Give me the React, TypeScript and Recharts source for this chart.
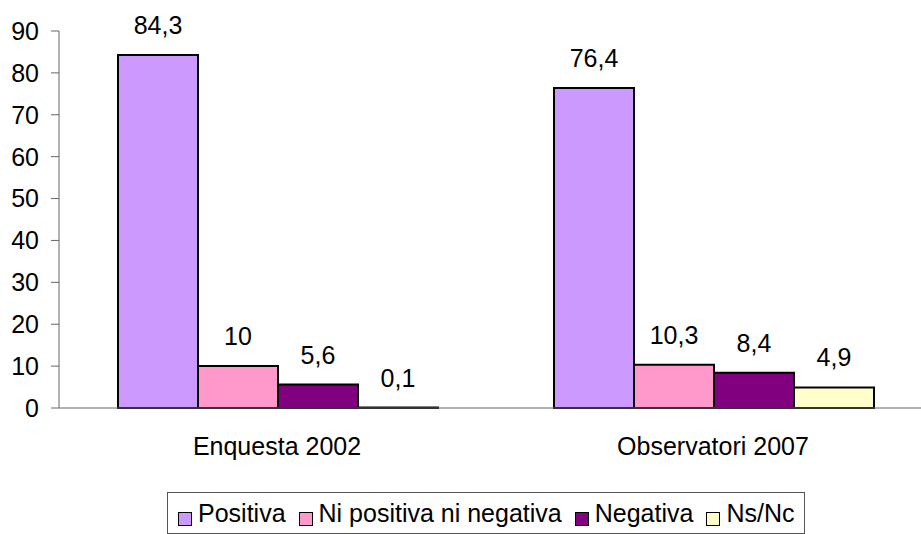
import { BarChart, Bar, XAxis, YAxis, Legend, LabelList } from 'recharts';

const CATEGORIES = ['Enquesta 2002', 'Observatori 2007'];
const SERIES = ['Positiva', 'Ni positiva ni negativa', 'Negativa', 'Ns/Nc'];
const POSITIVA = [84.3, 76.4];
const NI_POS_NI_NEG = [10, 10.3];
const NEGATIVA = [5.6, 8.4];
const NS_NC = [0.1, 4.9];
const Y_TICKS = [0, 10, 20, 30, 40, 50, 60, 70, 80, 90];
const BOUNDARY_TICKS = [0, 1, 2];

const COLORS = ['#cc99ff', '#ff99cc', '#800080', '#ffffcc'];
const KEYS = ['positiva', 'nini', 'negativa', 'nsnc'];
const FONT = '"Liberation Sans", Arial, sans-serif';
const AXIS = '#666';

const data = CATEGORIES.map((name, i) => ({
  name,
  idx: i + 0.5,
  positiva: POSITIVA[i],
  nini: NI_POS_NI_NEG[i],
  negativa: NEGATIVA[i],
  nsnc: NS_NC[i],
}));

const comma = (v: any) => String(v).replace('.', ',');

function LegendBox() {
  return (
    <div
      style={{
        display: 'inline-flex',
        alignItems: 'center',
        border: '1px solid #555',
        padding: '6px 10px 6px 10px',
        fontFamily: FONT,
        fontSize: 25,
        color: '#000',
        background: '#fff',
        lineHeight: '28px',
        whiteSpace: 'nowrap',
      }}
    >
      {SERIES.map((s, i) => (
        <span key={s} style={{ display: 'inline-flex', alignItems: 'center', marginRight: i < SERIES.length - 1 ? 13 : 0 }}>
          <span
            style={{
              width: 12,
              height: 12,
              background: COLORS[i],
              border: '1px solid #000',
              marginRight: 6,
              display: 'inline-block',
              position: 'relative',
              top: 6,
            }}
          />
          {s}
        </span>
      ))}
    </div>
  );
}

export default function App() {
  return (
    <div style={{ position: 'absolute', left: 0, top: 0, width: 921, height: 534, overflow: 'hidden', background: '#fff' }}>
      <BarChart
        width={941}
        height={534}
        data={data}
        margin={{ top: 31, right: 10, left: 10, bottom: 34 }}
        barCategoryGap={59}
        barGap={0}
        style={{ fontFamily: FONT }}
      >
        <XAxis
          xAxisId="bounds"
          type="number"
          dataKey="idx"
          domain={[0, 2]}
          ticks={BOUNDARY_TICKS}
          height={0}
          axisLine={false}
          tickLine={{ stroke: AXIS }}
          tickSize={8}
          tick={false as any}
          tickFormatter={() => ''}
        />
        <XAxis
          dataKey="name"
          height={50}
          axisLine={{ stroke: AXIS }}
          tickLine={false}
          tickSize={0}
          tickMargin={29}
          tick={{ fill: '#000', fontSize: 25 }}
        />
        <YAxis
          width={49}
          domain={[0, 90]}
          ticks={Y_TICKS}
          interval={0}
          axisLine={{ stroke: AXIS }}
          tickLine={{ stroke: AXIS }}
          tickSize={8}
          tickMargin={12}
          tick={{ fill: '#000', fontSize: 25 }}
        />
        <Legend
          verticalAlign="bottom"
          content={() => <LegendBox />}
          wrapperStyle={{ top: 492, bottom: 'auto', left: 167, width: 'auto' }}
        />
        {KEYS.map((k, i) => (
          <Bar key={k} dataKey={k} name={SERIES[i]} fill={COLORS[i]} stroke="#000" strokeWidth={2} isAnimationActive={false}>
            <LabelList dataKey={k} position="top" offset={21} formatter={comma} style={{ fill: '#000', fontSize: 25 }} />
          </Bar>
        ))}
      </BarChart>
    </div>
  );
}
